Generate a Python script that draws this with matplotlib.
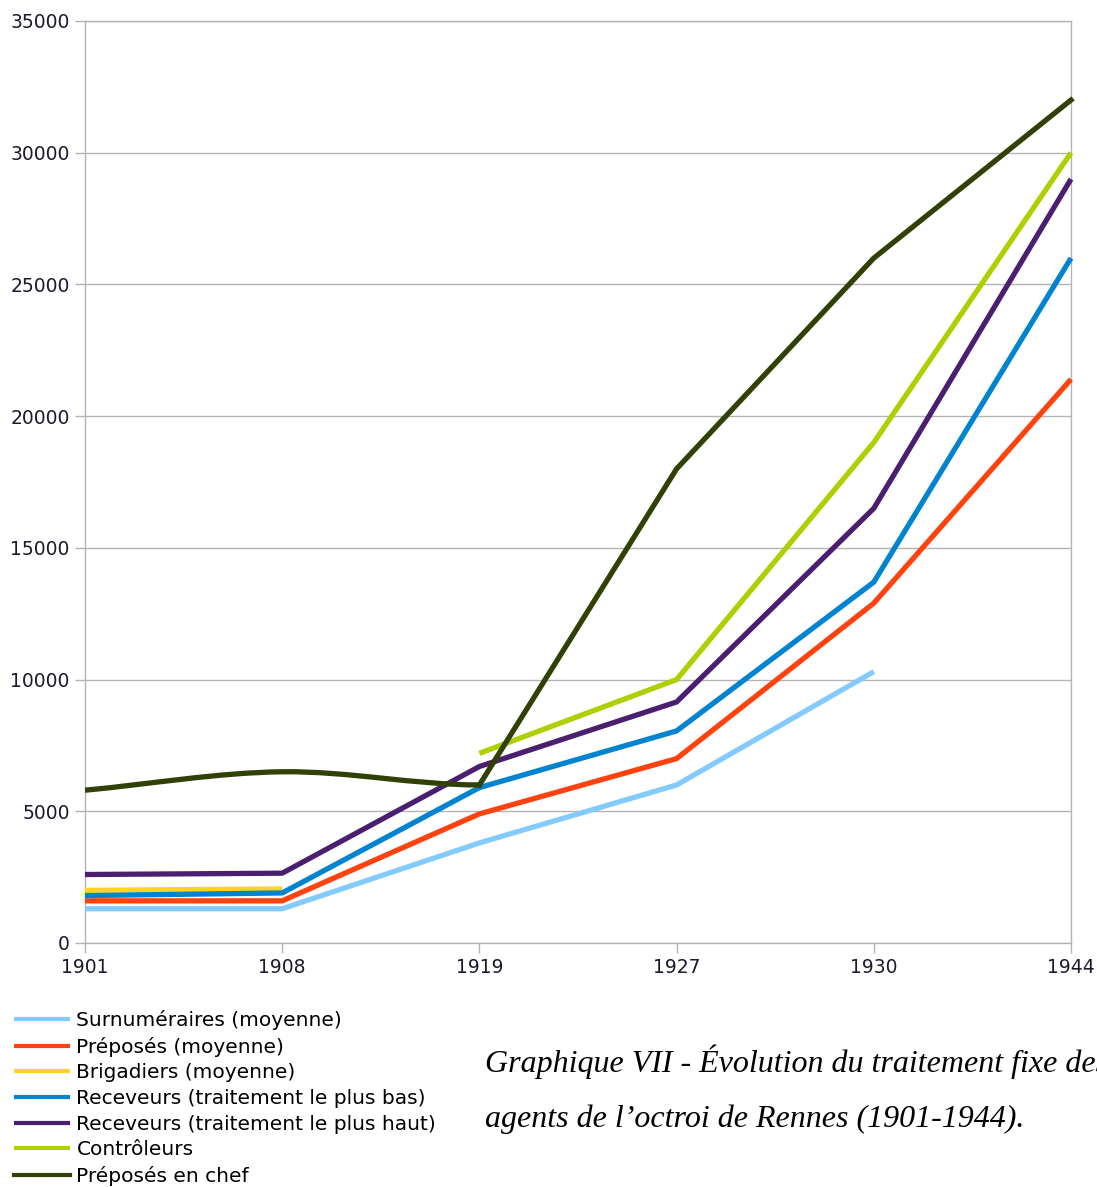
import numpy as np
import matplotlib
matplotlib.use("Agg")
import matplotlib.pyplot as plt
from matplotlib.path import Path
from matplotlib.patches import PathPatch

years = ["1901", "1908", "1919", "1927", "1930", "1944"]

surnumeraires = [1300, 1300, 3800, 6000, 10300, None]
preposes = [1600, 1600, 4900, 7000, 12900, 21400]
brigadiers = [2000, 2050, None, None, None, None]
receveurs_bas = [1800, 1900, 5900, 8050, 13700, 26000]
receveurs_haut = [2600, 2650, 6700, 9150, 16500, 29000]
controleurs = [None, None, 7200, 10000, 19000, 30000]
preposes_chef = [5800, 6500, 6000, 18000, 26000, 32000]

labels = [
    "Surnuméraires (moyenne)",
    "Préposés (moyenne)",
    "Brigadiers (moyenne)",
    "Receveurs (traitement le plus bas)",
    "Receveurs (traitement le plus haut)",
    "Contrôleurs",
    "Préposés en chef",
]
colors = ["#83CAFF", "#FF420E", "#FFD320", "#0084D1", "#4B1F6F", "#AECF00", "#314004"]

caption_1 = "Graphique VII - Évolution du traitement fixe des"
caption_2 = "agents de l\u2019octroi de Rennes (1901-1944)."

W, H = 1097, 1187
fig = plt.figure(figsize=(W / 100, H / 100), dpi=100)
ax = fig.add_axes([85 / W, 1 - 943 / H, (1071 - 85) / W, 922 / H])

x = np.arange(len(years))
lw = 3.8


def to_array(values):
    return np.array([np.nan if v is None else v for v in values], dtype=float)


series = [surnumeraires, preposes, brigadiers, receveurs_bas, receveurs_haut, controleurs]
for vals, lab, col in zip(series, labels[:-1], colors[:-1]):
    ax.plot(x, to_array(vals), color=col, lw=lw, label=lab, solid_capstyle="butt",
            solid_joinstyle="round", clip_on=False, zorder=3)

# chef: smoothed over the first three points, straight afterwards
chef = to_array(preposes_chef)
n_smooth = 3
tangents = [chef[1] - chef[0], (chef[2] - chef[0]) / 2, 0.0]
verts = [(x[0], chef[0])]
codes = [Path.MOVETO]
for i in range(n_smooth - 1):
    verts += [(x[i] + 1 / 3, chef[i] + tangents[i] / 3),
              (x[i + 1] - 1 / 3, chef[i + 1] - tangents[i + 1] / 3),
              (x[i + 1], chef[i + 1])]
    codes += [Path.CURVE4] * 3
ax.add_patch(PathPatch(Path(verts, codes), fill=False, edgecolor=colors[-1], lw=lw,
                       joinstyle="round", capstyle="butt", zorder=3))
ax.plot(x[n_smooth - 1:], chef[n_smooth - 1:], color=colors[-1], lw=lw, label=labels[-1],
        solid_joinstyle="round", clip_on=False, zorder=3)

ax.set_xlim(0, len(years) - 1)
ax.set_ylim(0, 35000)
ax.set_xticks(x)
ax.set_xticklabels(years)
ax.set_yticks(np.arange(0, 35001, 5000))
ax.yaxis.grid(True, color="#b3b3b3", lw=1)
ax.set_axisbelow(True)
for s in ax.spines.values():
    s.set_color("#b3b3b3")
    s.set_linewidth(1)
ax.tick_params(axis="both", length=7, width=1, color="#b3b3b3", labelsize=13.5,
               labelcolor="#1a1a2e", pad=4)
for t in ax.get_xticklabels() + ax.get_yticklabels():
    t.set_fontfamily("DejaVu Sans")

leg = fig.legend(loc="upper left", bbox_to_anchor=(14 / W, 1 - 1010 / H), frameon=False,
                 prop={"family": "DejaVu Sans", "size": 14.5}, handlelength=2.8,
                 handletextpad=0.3, labelspacing=0.33, borderpad=0, borderaxespad=0)
for h in leg.get_lines():
    h.set_linewidth(3)

# the reference caption runs past the right edge of the image
fig.text(485 / W, 1 - 1072 / H, caption_1, family="Liberation Serif", style="italic",
         fontsize=23, va="baseline")
fig.text(485 / W, 1 - 1127 / H, caption_2, family="Liberation Serif", style="italic",
         fontsize=23, va="baseline")

fig.savefig("out.png", dpi=100)
